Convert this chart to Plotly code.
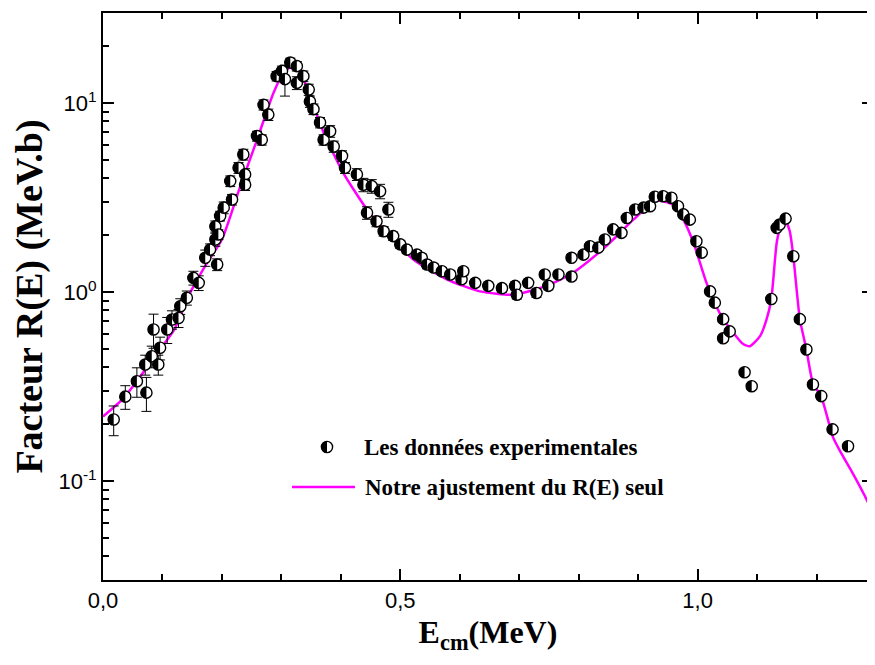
import math
import plotly.graph_objects as go

# ---- experimental data (E_cm in MeV, R(E) in MeV.b, error) ----
exp_x = [0.018, 0.0375, 0.057, 0.071, 0.073, 0.082, 0.085, 0.093, 0.096, 0.108,
         0.116, 0.127, 0.130, 0.141, 0.152, 0.161, 0.172, 0.180, 0.189, 0.192,
         0.189, 0.194, 0.197, 0.203, 0.214, 0.217, 0.228, 0.236, 0.239, 0.239,
         0.259, 0.267, 0.270, 0.278, 0.292, 0.301, 0.306, 0.315, 0.326, 0.326,
         0.337, 0.346, 0.348, 0.354, 0.365, 0.371, 0.382, 0.388, 0.402, 0.407,
         0.427, 0.438, 0.444, 0.452, 0.460, 0.466, 0.472, 0.480, 0.488, 0.500,
         0.511, 0.528, 0.536, 0.545, 0.556, 0.570, 0.584, 0.603, 0.606, 0.626,
         0.648, 0.671, 0.693, 0.696, 0.715, 0.729, 0.743, 0.749, 0.766, 0.788,
         0.788, 0.808, 0.819, 0.833, 0.844, 0.858, 0.872, 0.881, 0.895, 0.909,
         0.920, 0.928, 0.942, 0.956, 0.967, 0.976, 0.987, 0.998, 1.007, 1.021,
         1.029, 1.043, 1.043, 1.054, 1.079, 1.091, 1.124, 1.133, 1.138, 1.148,
         1.161, 1.172, 1.183, 1.194, 1.208, 1.227, 1.253]
exp_y = [0.212, 0.28, 0.338, 0.414, 0.294, 0.458, 0.635, 0.414, 0.508, 0.635,
         0.717, 0.73, 0.843, 0.934, 1.19, 1.12, 1.52, 1.68, 1.90, 1.40,
         2.23, 2.02, 2.53, 2.8, 3.87, 3.09, 4.55, 5.35, 4.2, 3.7,
         6.7, 6.4, 9.8, 8.7, 13.9, 14.8, 13.4, 16.4, 15.7, 12.8,
         13.9, 11.8, 10.2, 9.3, 7.9, 6.4, 7.1, 5.9, 5.25, 4.55,
         4.2, 3.7, 2.63, 3.64, 2.37, 3.42, 2.1, 2.74, 1.98, 1.79,
         1.68, 1.58, 1.52, 1.40, 1.35, 1.29, 1.24, 1.17, 1.29, 1.12,
         1.08, 1.05, 1.08, 0.97, 1.12, 0.99, 1.24, 1.08, 1.24, 1.21,
         1.52, 1.58, 1.75, 1.72, 1.90, 2.15, 2.06, 2.47, 2.74, 2.80,
         2.85, 3.20, 3.22, 3.16, 2.85, 2.58, 2.42, 1.86, 1.62, 1.01,
         0.88, 0.72, 0.57, 0.62, 0.377, 0.318, 0.92, 2.19, 2.28, 2.45,
         1.55, 0.72, 0.497, 0.325, 0.282, 0.188, 0.153]
exp_err = [0.038, 0.04, 0.06, 0.05, 0.06, 0.06, 0.13, 0.05, 0.07, 0.10,
           0.08, 0.08, 0.08, 0.08, 0.10, 0.10, 0.15, 0.12, 0.15, 0.10,
           0.15, 0.12, 0.15, 0.20, 0.25, 0.20, 0.30, 0.35, 0.30, 0.25,
           0.40, 0.40, 0.60, 0.60, 0.80, 0.90, 2.50, 0.90, 0.90, 1.00,
           0.90, 0.80, 0.70, 0.60, 0.50, 0.40, 0.50, 0.40, 0.35, 0.30,
           0.30, 0.30, 0.20, 0.30, 0.15, 0.30, 0.12, 0.25, 0.10, 0.09,
           0.08, 0.08, 0.07, 0.07, 0.06, 0.06, 0.06, 0.05, 0.06, 0.05,
           0.05, 0.05, 0.05, 0.05, 0.05, 0.05, 0.05, 0.05, 0.05, 0.05,
           0.05, 0.06, 0.06, 0.06, 0.07, 0.08, 0.08, 0.08, 0.09, 0.09,
           0.09, 0.10, 0.10, 0.10, 0.10, 0.10, 0.08, 0.06, 0.05, 0.03,
           0.03, 0.02, 0.02, 0.02, 0.01, 0.01, 0.02, 0.05, 0.05, 0.05,
           0.04, 0.02, 0.01, 0.01, 0.01, 0.005, 0.005]

# ---- fitted curve ----
fit_x = [0.0, 0.035, 0.09, 0.12, 0.147, 0.175, 0.2, 0.231, 0.259, 0.287,
         0.304, 0.315, 0.332, 0.348, 0.371, 0.404, 0.444, 0.472, 0.522, 0.578,
         0.634, 0.69, 0.746, 0.791, 0.83, 0.858, 0.892, 0.931, 0.959, 0.976,
         0.993, 1.015, 1.037, 1.06, 1.077, 1.088, 1.105, 1.116, 1.124, 1.133,
         1.140, 1.147, 1.155, 1.161, 1.172, 1.183, 1.194, 1.208, 1.228, 1.242,
         1.261, 1.28, 1.298]
fit_y = [0.22, 0.276, 0.47, 0.635, 1.0, 1.43, 1.9, 3.64, 6.4, 11.4,
         14.5, 15.4, 14.5, 10.9, 7.0, 4.28, 2.74, 2.15, 1.49, 1.17,
         1.01, 0.97, 1.08, 1.27, 1.58, 1.9, 2.42, 3.05, 2.9, 2.42,
         1.83, 1.12, 0.778, 0.61, 0.53, 0.518, 0.585, 0.717, 0.92, 1.82,
         2.25, 2.42, 2.1, 1.55, 0.72, 0.497, 0.33, 0.28, 0.17, 0.14,
         0.11, 0.085, 0.065]

x_ticks = [0.0, 0.5, 1.0]
x_minor = [0.1, 0.2, 0.3, 0.4, 0.6, 0.7, 0.8, 0.9, 1.1, 1.2]
y_ticks = [0.1, 1, 10]
y_ticktext = ["10<sup>-1</sup>", "10<sup>0</sup>", "10<sup>1</sup>"]
y_minor = [0.04, 0.05, 0.06, 0.07, 0.08, 0.09,
           0.2, 0.3, 0.4, 0.5, 0.6, 0.7, 0.8, 0.9,
           2, 3, 4, 5, 6, 7, 8, 9, 20]

legend_data = "Les données experimentales"
legend_fit = "Notre ajustement du R(E) seul"

SERIF = "Liberation Serif, Times New Roman, serif"
SANS = "Liberation Sans, Arial, sans-serif"
MAGENTA = "#FF00FF"

R = 5.6  # marker radius in px

# figure size chosen so that page (with the 8px body margin) fits the window
W, H = 867, 649
M_L, M_R, M_T, M_B = 95, 2, 5, 77
PW, PH = W - M_L - M_R, H - M_T - M_B


def left_half_path(r, n=16):
    pts = []
    for i in range(n + 1):
        a = math.pi / 2 + math.pi * i / n
        pts.append((r * math.cos(a), r * math.sin(a)))
    return "M " + " L ".join(f"{px:.2f},{py:.2f}" for px, py in pts) + " Z"


HALF = left_half_path(R)

fig = go.Figure()

# fitted line
fig.add_trace(go.Scatter(
    x=fit_x, y=fit_y, mode="lines", name=legend_fit,
    line=dict(color=MAGENTA, width=2.5, shape="spline", smoothing=0.6),
    showlegend=False))

# experimental points: white circles with black outline + error bars
fig.add_trace(go.Scatter(
    x=exp_x, y=exp_y, mode="markers", name=legend_data,
    marker=dict(symbol="circle", size=2 * R, color="white",
                line=dict(color="black", width=1.4)),
    error_y=dict(type="data", array=exp_err, visible=True,
                 color="black", thickness=1, width=5),
    showlegend=False))

# black left halves of the markers, anchored at the data values
for xv, yv in zip(exp_x, exp_y):
    fig.add_shape(type="path", xref="x", yref="y",
                  xsizemode="pixel", ysizemode="pixel",
                  xanchor=xv, yanchor=yv, path=HALF,
                  fillcolor="black", line=dict(width=0), layer="above")

axis_common = dict(showline=True, linewidth=2, linecolor="black", mirror="ticks",
                   ticks="inside", ticklen=11, tickwidth=2, tickcolor="black",
                   showgrid=False, zeroline=False, automargin=False,
                   tickfont=dict(family=SANS, size=22, color="black"))

fig.update_xaxes(range=[0, 1.295], tickmode="array", tickvals=x_ticks,
                 tickformat=".1f",
                 minor=dict(tickmode="array", tickvals=x_minor, ticks="inside",
                            ticklen=6, tickwidth=2, tickcolor="black"),
                 title=dict(text="<b>E<sub>cm</sub>(MeV)</b>", standoff=8,
                            font=dict(family=SERIF, size=32, color="black")),
                 **axis_common)

fig.update_yaxes(type="log", range=[math.log10(0.03), math.log10(30)],
                 tickmode="array", tickvals=y_ticks, ticktext=y_ticktext,
                 minor=dict(tickmode="array", tickvals=y_minor, ticks="inside",
                            ticklen=6, tickwidth=2, tickcolor="black"),
                 title=dict(text="<b>Facteur R(E) (MeV.b)</b>", standoff=10,
                            font=dict(family=SERIF, size=38, color="black")),
                 **axis_common)


# manual legend (paper coordinates from pixel positions inside the figure)
def px_to_paper_x(px):
    return (px - M_L) / PW


def px_to_paper_y(py):
    return (H - M_B - py) / PH


LEG_SYM_X, LEG_ROW1, LEG_ROW2 = 319, 439, 479
fig.add_shape(type="line", xref="paper", yref="paper",
              x0=px_to_paper_x(284), x1=px_to_paper_x(347),
              y0=px_to_paper_y(LEG_ROW2), y1=px_to_paper_y(LEG_ROW2),
              line=dict(color=MAGENTA, width=2.5))
fig.add_shape(type="circle", xref="paper", yref="paper",
              xsizemode="pixel", ysizemode="pixel",
              xanchor=px_to_paper_x(LEG_SYM_X), yanchor=px_to_paper_y(LEG_ROW1),
              x0=-R, x1=R, y0=-R, y1=R,
              fillcolor="white", line=dict(color="black", width=1.4))
fig.add_shape(type="path", xref="paper", yref="paper",
              xsizemode="pixel", ysizemode="pixel",
              xanchor=px_to_paper_x(LEG_SYM_X), yanchor=px_to_paper_y(LEG_ROW1),
              path=HALF, fillcolor="black", line=dict(width=0))
fig.add_annotation(xref="paper", yref="paper", x=px_to_paper_x(354),
                   y=px_to_paper_y(LEG_ROW1), text="<b>" + legend_data + "</b>",
                   showarrow=False, xanchor="left", yanchor="middle",
                   font=dict(family=SERIF, size=23, color="black"))
fig.add_annotation(xref="paper", yref="paper", x=px_to_paper_x(355),
                   y=px_to_paper_y(LEG_ROW2), text="<b>" + legend_fit + "</b>",
                   showarrow=False, xanchor="left", yanchor="middle",
                   font=dict(family=SERIF, size=23, color="black"))

fig.update_layout(width=W, height=H, separators=", ",
                  margin=dict(l=M_L, r=M_R, t=M_T, b=M_B),
                  paper_bgcolor="white", plot_bgcolor="white",
                  showlegend=False)

fig.write_html("out.html")
